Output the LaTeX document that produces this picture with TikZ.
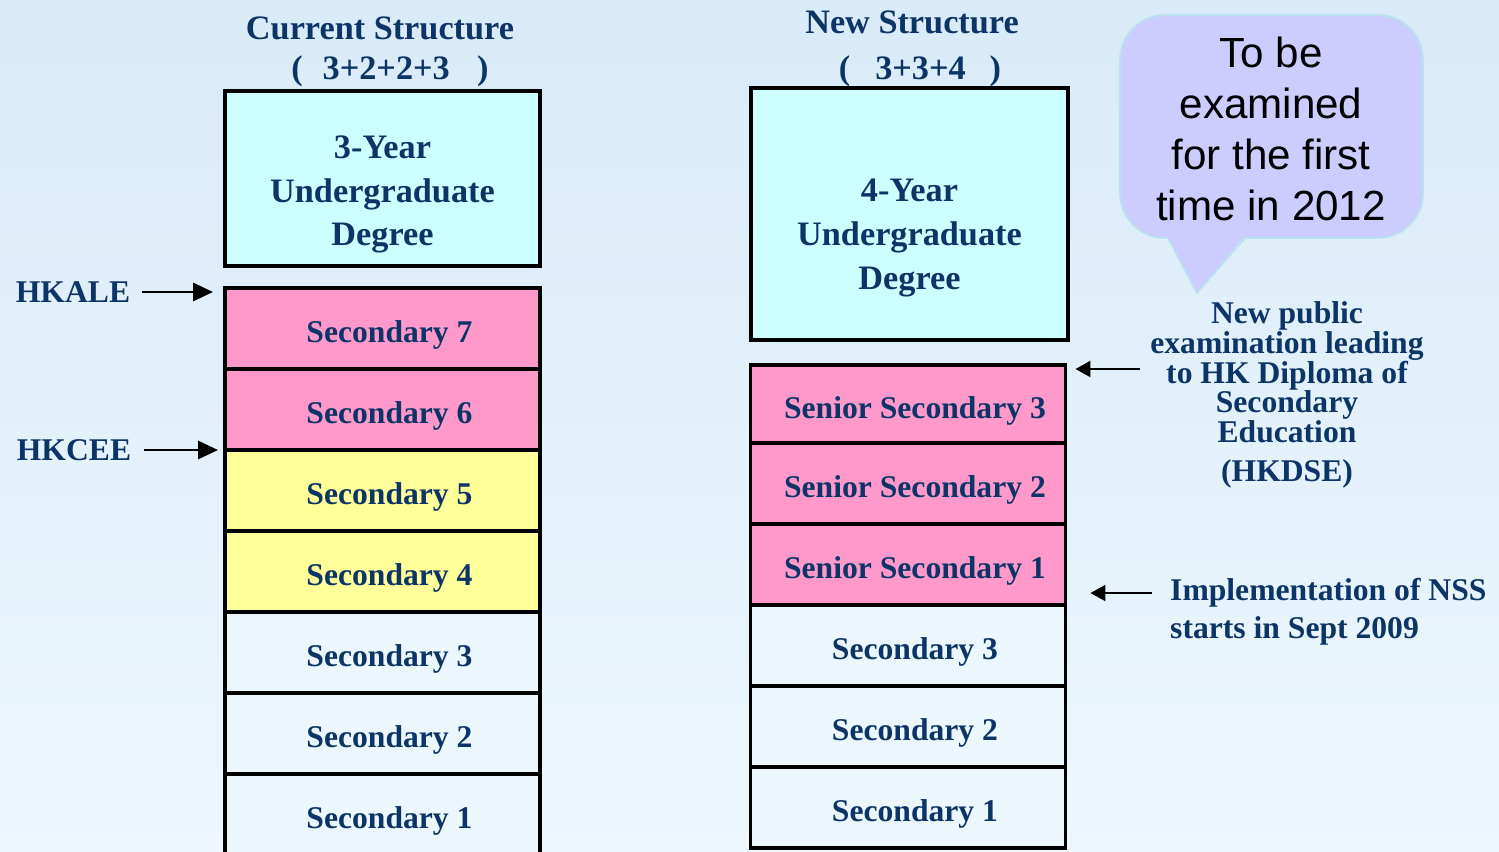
\documentclass[tikz,border=0pt]{standalone}
\usepackage{fontspec}
\setmainfont{Liberation Serif}
\newfontfamily\calloutfont{Liberation Sans}
\usetikzlibrary{positioning, arrows.meta}

\definecolor{navy}{RGB}{12,52,102}
\definecolor{bgtop}{RGB}{217,234,248}
\definecolor{bgbottom}{RGB}{237,247,253}
\definecolor{degreecyan}{RGB}{204,255,255}
\definecolor{pinkyear}{RGB}{255,153,204}
\definecolor{yellowyear}{RGB}{255,255,153}
\definecolor{plainyear}{RGB}{236,246,253}
\definecolor{calloutfill}{RGB}{204,204,255}
\definecolor{calloutline}{RGB}{186,226,238}

\begin{document}
\begin{tikzpicture}[x=0.02cm, y=-0.02cm,
    every node/.style={text=navy, font=\bfseries\fontsize{18}{21}\selectfont},
    titlefont/.style={font=\bfseries\fontsize{19.5}{25}\selectfont},
    yearbox/.style={draw=black, line width=1.9pt, outer sep=0pt,
        minimum width=6.3cm, minimum height=1.62cm, text height=16pt, text depth=0pt,
        execute at begin node=\hspace{0.28cm}},
    examarrow/.style={line width=1.7pt, -{Triangle[length=0.4cm, width=0.36cm]}},
    notearrow/.style={line width=1.2pt, -{Triangle[length=0.3cm, width=0.32cm]}}]
    % Background
    \clip (0,0) rectangle (1499,852);
    \shade[top color=bgtop, bottom color=bgbottom] (0,0) rectangle (1499,852);

    % Current structure
    \node[titlefont] (curtitle) at (380,28) {Current Structure};
    \node[titlefont] (curplan) at (390,71) {(\hspace{0.58em}3+2+2+3\hspace{0.8em})};
    \node[yearbox, fill=degreecyan, minimum height=3.5cm] (deg3) at (382.5,178.5) {};
    \node[titlefont, align=center] (deg3text) at ([yshift=-0.32cm]deg3.center)
        {3-Year\\Undergraduate\\Degree};
    \node[yearbox, fill=pinkyear, anchor=north] (s7) at (382.5,288) {Secondary 7};
    \node[yearbox, fill=pinkyear, below=0pt of s7] (s6) {Secondary 6};
    \node[yearbox, fill=yellowyear, below=0pt of s6] (s5) {Secondary 5};
    \node[yearbox, fill=yellowyear, below=0pt of s5] (s4) {Secondary 4};
    \node[yearbox, fill=plainyear, below=0pt of s4] (s3) {Secondary 3};
    \node[yearbox, fill=plainyear, below=0pt of s3] (s2) {Secondary 2};
    \node[yearbox, fill=plainyear, below=0pt of s2] (s1) {Secondary 1};

    % Public exams
    \node (hkale) at (73,292) {HKALE};
    \node (hkcee) at (74,450) {HKCEE};
    \draw[examarrow] ([xshift=0.12cm]hkale.east) -- ([xshift=-0.24cm]hkale.east -| s7.west);
    \draw[examarrow] ([xshift=0.14cm]hkcee.east) -- ([xshift=-0.14cm]hkcee.east -| s6.west);

    % New structure
    \node[titlefont] (newtitle) at (912,22) {New Structure};
    \node[titlefont] (newplan) at (920,71) {(\hspace{0.73em}3+3+4\hspace{0.7em})};
    \node[yearbox, fill=degreecyan, minimum width=6.34cm, minimum height=5.04cm] (deg4) at (909.5,214) {};
    \node[titlefont, align=center] (deg4text) at ([yshift=-0.48cm]deg4.center)
        {4-Year\\Undergraduate\\Degree};
    \node[yearbox, fill=pinkyear, anchor=north, minimum height=1.56cm] (ss3) at (908,365) {Senior Secondary 3};
    \node[yearbox, fill=pinkyear, below=0pt of ss3] (ss2) {Senior Secondary 2};
    \node[yearbox, fill=pinkyear, below=0pt of ss2] (ss1) {Senior Secondary 1};
    \node[yearbox, fill=plainyear, below=0pt of ss1] (ns3) {Secondary 3};
    \node[yearbox, fill=plainyear, below=0pt of ns3] (ns2) {Secondary 2};
    \node[yearbox, fill=plainyear, below=0pt of ns2] (ns1) {Secondary 1};

    % Notes
    \node[align=center, font=\bfseries\fontsize{18}{17}\selectfont, anchor=north, inner sep=0pt]
        (hkdse) at (1287,301) {New public\\examination leading\\to HK Diploma of\\Secondary\\Education\\[5pt](HKDSE)};
    \coordinate (dsestart) at (1140,369);
    \draw[notearrow] (dsestart) -- ([xshift=0.2cm]dsestart -| ss3.east);
    \node[anchor=west] (nss) at (1164,593) {Implementation of NSS};
    \node[anchor=west] (nssdate) at (1164,631) {starts in Sept 2009};
    \draw[notearrow] ([xshift=-0.24cm]nss.west) -- ([xshift=0.5cm]nss.west -| ss1.east);

    % Callout
    \filldraw[fill=calloutfill, draw=calloutline, line width=1pt, rounded corners=0.9cm]
        (1120,15) rectangle (1423,238);
    \fill[calloutfill] (1166,232) -- (1197,293) -- (1248,232) -- cycle;
    \draw[calloutline, line width=1pt] (1168,238) -- (1197,293) -- (1245,238);
    \node[text=black, font=\calloutfont\fontsize{24}{29}\selectfont, align=center]
        (firstexam) at (1271,129) {To be\\examined\\for the first\\time in 2012};
\end{tikzpicture}
\end{document}
